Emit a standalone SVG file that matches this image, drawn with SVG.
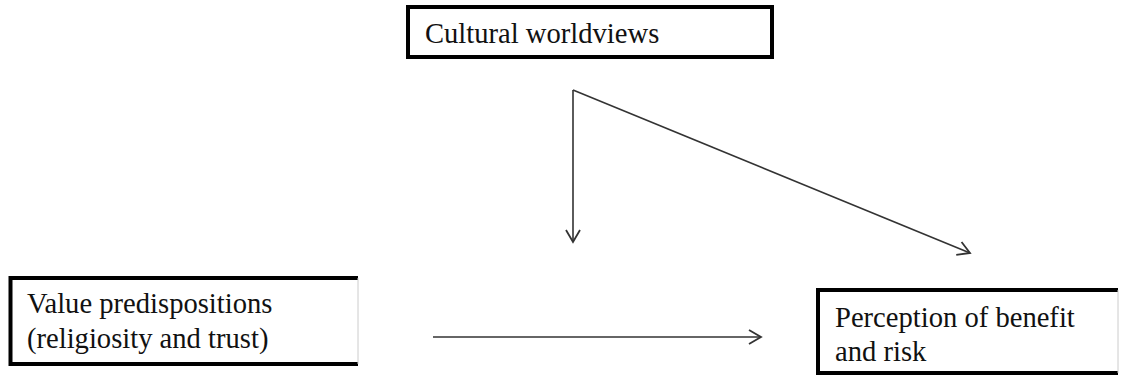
<svg xmlns="http://www.w3.org/2000/svg" width="1121" height="376" viewBox="0 0 1121 376">
  <style>
    .box { fill: #fff; stroke: #000; stroke-width: 4; }
    .edge { stroke: #ccc; stroke-width: 1; }
    .lbl { font-size: 28.6px; fill: #111; }
    .conn { stroke: #333; stroke-width: 1.6; fill: none; marker-end: url(#arr); }
  </style>
  <defs>
    <marker id="arr" markerUnits="userSpaceOnUse" markerWidth="16" markerHeight="16" viewBox="0 0 16 16" refX="14" refY="8" orient="auto">
      <path d="M2,1 L14,8 L2,15" fill="none" stroke="#333" stroke-width="1.8"/>
    </marker>
  </defs>
  <rect width="1121" height="376" fill="#fff"/>
  <g id="cultural">
    <rect class="box" x="408" y="7" width="364" height="50"/>
    <text class="lbl" font-family="Liberation Serif, DejaVu Serif, serif" x="425" y="43">Cultural worldviews</text>
  </g>
  <g id="value">
    <path d="M358,278 L10.5,278 L10.5,364 L358,364" fill="#fff" stroke="#000" stroke-width="4"/>
    <line class="edge" x1="358" y1="278" x2="358" y2="364"/>
    <text class="lbl" font-family="Liberation Serif, DejaVu Serif, serif" x="27" y="313">Value predispositions</text>
    <text class="lbl" font-family="Liberation Serif, DejaVu Serif, serif" x="27" y="348">(religiosity and trust)</text>
  </g>
  <g id="perception">
    <path d="M1118,290 L818,290 L818,373 L1118,373" fill="#fff" stroke="#000" stroke-width="4"/>
    <line class="edge" x1="1118" y1="290" x2="1118" y2="373"/>
    <text class="lbl" font-family="Liberation Serif, DejaVu Serif, serif" x="835" y="327">Perception of benefit</text>
    <text class="lbl" font-family="Liberation Serif, DejaVu Serif, serif" x="835" y="361">and risk</text>
  </g>
  <g id="connectors">
    <line class="conn" x1="573" y1="90" x2="573" y2="242"/>
    <line class="conn" x1="573" y1="90" x2="970" y2="253"/>
    <line class="conn" x1="433" y1="337" x2="761" y2="337"/>
  </g>
</svg>
